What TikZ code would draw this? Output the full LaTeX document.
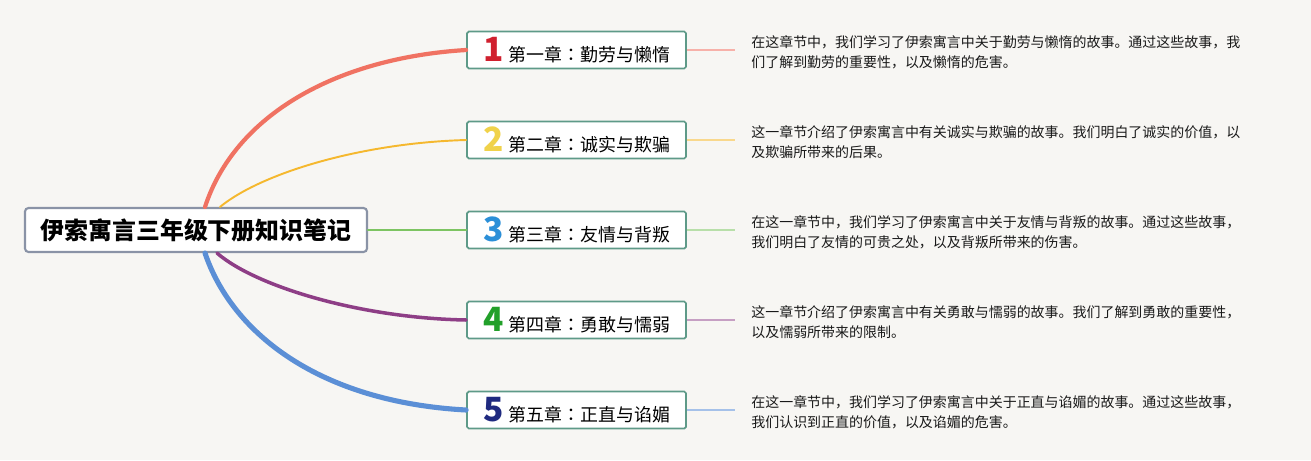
\documentclass[tikz,border=0pt]{standalone}
\usepackage{fontspec}
\setmainfont{Noto Sans CJK SC}
\newfontfamily\colonfont{Noto Sans CJK TC}
\usepackage{xcolor}
\usetikzlibrary{positioning}

\definecolor{bgpaper}{HTML}{F7F6F3}
\definecolor{rootline}{HTML}{8A93A6}
\definecolor{boxline}{HTML}{5E9A88}
\definecolor{redline}{HTML}{F07262}
\definecolor{yellowline}{HTML}{F5B82E}
\definecolor{greenline}{HTML}{7DC462}
\definecolor{purpleline}{HTML}{8E3E86}
\definecolor{blueline}{HTML}{5B8FD6}
\definecolor{numred}{HTML}{D0202E}
\definecolor{numyellow}{HTML}{F0D24A}
\definecolor{numblue}{HTML}{2B8FD8}
\definecolor{numgreen}{HTML}{22A02A}
\definecolor{numnavy}{HTML}{1F2A80}

\newcommand{\chapnum}[2]{{\fontsize{19pt}{19pt}\selectfont\bfseries\color{#1}#2}\hspace{3pt}}
\newcommand{\cn}{{\colonfont ：}}

\begin{document}
\begin{tikzpicture}[
    x=0.02cm, y=-0.02cm,
    root/.style={rectangle, draw=rootline, line width=1.2pt, rounded corners=2pt, fill=white, minimum width=342*0.02cm, minimum height=44*0.02cm, inner sep=0pt, font=\fontsize{13.6pt}{16pt}\selectfont\bfseries},
    chapter/.style={rectangle, draw=boxline, line width=1pt, rounded corners=1pt, fill=white, minimum width=219*0.02cm, minimum height=37*0.02cm, inner sep=0pt, font=\fontsize{10.2pt}{12pt}\selectfont},
    desc/.style={anchor=west, align=left, inner xsep=16*0.02cm, inner ysep=0pt, font=\fontsize{7.95pt}{11.4pt}\selectfont, text=black!90},
    branch/.style={line cap=round},
    twig/.style={line width=0.7pt}
]
    % Background
    \fill[bgpaper] (0,0) rectangle (1311,460);

    % Root
    \node[root] (root) at (196,230) {伊索寓言三年级下册知识笔记};

    % Chapters
    \node[chapter] (c1) at (576.5,50)  {\chapnum{numred}{1}第一章\cn 勤劳与懒惰};
    \node[chapter] (c2) at (576.5,140) {\chapnum{numyellow}{2}第二章\cn 诚实与欺骗};
    \node[chapter] (c3) at (576.5,230) {\chapnum{numblue}{3}第三章\cn 友情与背叛};
    \node[chapter] (c4) at (576.5,320) {\chapnum{numgreen}{4}第四章\cn 勇敢与懦弱};
    \node[chapter] (c5) at (576.5,410) {\chapnum{numnavy}{5}第五章\cn 正直与谄媚};

    % Notes
    \node[desc] (d1) at (735,52)  {在这章节中，我们学习了伊索寓言中关于勤劳与懒惰的故事。通过这些故事，我\\们了解到勤劳的重要性，以及懒惰的危害。};
    \node[desc] (d2) at (735,142) {这一章节介绍了伊索寓言中有关诚实与欺骗的故事。我们明白了诚实的价值，以\\及欺骗所带来的后果。};
    \node[desc] (d3) at (735,232) {在这一章节中，我们学习了伊索寓言中关于友情与背叛的故事。通过这些故事，\\我们明白了友情的可贵之处，以及背叛所带来的伤害。};
    \node[desc] (d4) at (735,322) {这一章节介绍了伊索寓言中有关勇敢与懦弱的故事。我们了解到勇敢的重要性，\\以及懦弱所带来的限制。};
    \node[desc] (d5) at (735,412) {在这一章节中，我们学习了伊索寓言中关于正直与谄媚的故事。通过这些故事，\\我们认识到正直的价值，以及谄媚的危害。};

    % Branches: root to chapters
    \draw[branch, redline, line width=2.4pt] ([shift={(9,0)}]root.north) .. controls +(30,-92) and +(-130,8) .. (c1.west);
    \draw[branch, yellowline, line width=1.1pt] ([shift={(24,0)}]root.north) .. controls +(40,-33) and +(-107,3) .. (c2.west);
    \draw[branch, greenline, line width=1.7pt] (root.east) -- (c3.west);
    \draw[branch, purpleline, line width=2pt] ([shift={(21,0)}]root.south) .. controls +(38,33) and +(-107,-2) .. (c4.west);
    \draw[branch, blueline, line width=2.9pt] ([shift={(9,0)}]root.south) .. controls +(27,80) and +(-147,-8) .. (c5.west);

    % Twigs: chapters to notes
    \draw[twig, redline!55] (c1.east) -- (c1.east -| d1.west);
    \draw[twig, yellowline!55] (c2.east) -- (c2.east -| d2.west);
    \draw[twig, greenline!55] (c3.east) -- (c3.east -| d3.west);
    \draw[twig, purpleline!50] (c4.east) -- (c4.east -| d4.west);
    \draw[twig, blueline!55] (c5.east) -- (c5.east -| d5.west);
\end{tikzpicture}
\end{document}
